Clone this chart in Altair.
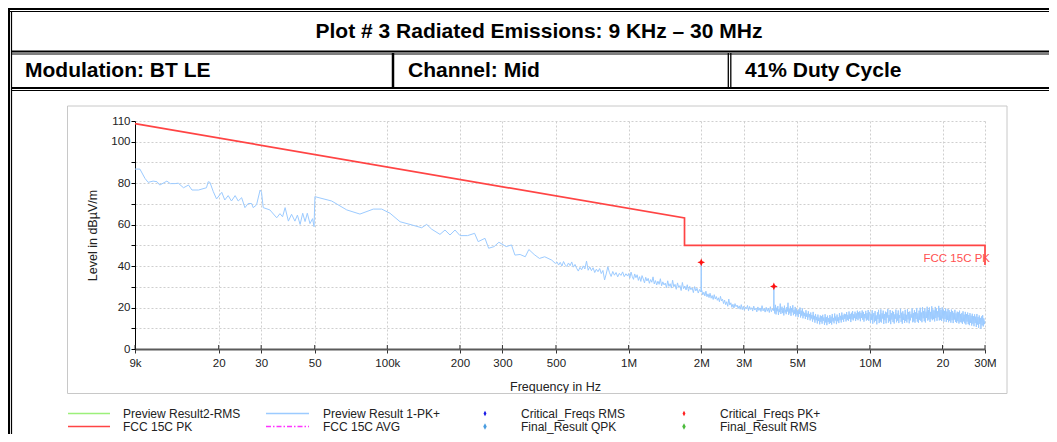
import altair as alt
import numpy as np
import pandas as pd

# ---------------- data ----------------
# Preview Result 1-PK+ : low-frequency part (explicit points)
low_freq_khz = [9.0, 9.43, 9.9, 10.2, 10.7, 11.1, 11.4, 12.2, 12.6, 13.2,
                13.6, 14.3, 15.0, 15.5, 16.5, 17.8, 18.1, 18.4, 19.0, 19.6,
                20.6, 21.2, 21.9, 22.6, 23.4, 24.1, 24.9, 25.7, 26.5, 27.4,
                27.8, 28.7, 29.7, 30.1, 30.6, 32.6, 34.8, 35.9, 36.8, 37.7,
                38.9, 40.1, 41.4, 42.4, 43.5, 44.6, 45.6, 46.6, 47.8, 49.0,
                49.7, 50.1, 58.8, 67.9, 77.0, 87.5, 94.8, 102.6, 112.9, 124.2,
                138.8, 145.6, 152.7, 165.3, 173.4, 181.9, 190.8, 200.1, 215, 230,
                238, 254, 263, 277, 290, 311, 327, 338, 355, 373,
                386, 406, 427, 449, 480]
low_level = [86.8, 86.8, 82.3, 80.4, 81.0, 80.7, 79.1, 81.0, 79.8, 79.8,
             80.0, 77.8, 79.1, 76.7, 76.7, 77.8, 80.7, 80.4, 75.9, 72.4,
             75.6, 71.9, 74.0, 71.4, 74.0, 71.4, 73.0, 68.2, 70.2, 70.2,
             68.2, 69.5, 76.7, 75.6, 68.2, 67.1, 63.3, 65.3, 63.8, 68.2,
             61.7, 65.0, 61.7, 64.6, 60.1, 65.5, 61.5, 65.5, 60.5, 62.9,
             59.0, 73.5, 71.4, 67.1, 65.1, 67.5, 67.5, 65.5, 61.4, 60.1,
             58.5, 60.1, 57.8, 55.3, 57.4, 55.0, 57.4, 54.7, 54.7, 55.8,
             51.8, 53.4, 48.6, 49.4, 51.5, 49.4, 50.2, 45.3, 45.6, 44.5,
             48.0, 45.6, 43.7, 44.5, 42.9]

# sweep segments (start Hz, stop Hz) with levels read along each segment
seg_start_hz = [497e3, 1.0e6, 2.01e6, 4.015e6, 1.0e7]
seg_stop_hz = [990e3, 1.99e6, 3.985e6, 9.95e6, 3.0e7]
seg_b = [41.3, 42.0, 40.5, 41.8, 40.0, 42.2, 40.6, 39.8, 41.5, 40.2, 42.0, 39.5, 40.8, 38.9, 37.6,
         39.4, 38.2, 40.1, 38.6, 42.4, 38.0, 39.6, 37.8, 39.2, 36.9, 38.5, 37.3, 38.8, 36.4, 37.9,
         33.3, 36.2, 39.7, 36.8, 35.0, 37.4, 35.6, 36.9, 34.8, 36.5, 35.5, 37.2, 34.9, 36.3, 35.2]
seg_c = [36.4, 34.2, 37.1, 35.0, 33.6, 36.2, 34.4, 35.8, 33.1, 34.9, 32.6, 35.4, 33.8, 31.9, 34.6,
         32.8, 34.1, 31.7, 33.5, 32.2, 34.8, 31.4, 33.0, 30.9, 32.7, 31.2, 33.9, 30.5, 32.4, 30.9,
         31.8, 29.6, 32.9, 30.2, 31.5, 29.4, 33.2, 30.0, 31.2, 28.8, 31.9, 29.7, 30.6, 28.2, 32.1,
         29.1, 30.4, 28.5, 31.0, 27.9, 30.2, 28.6, 29.5, 27.2, 30.1, 28.0, 29.3, 27.0, 28.7, 27.6]
seg_d = [28.3, 26.1, 27.4, 25.6, 27.9, 25.2, 26.6, 24.8, 26.9, 24.5, 25.8, 23.9, 26.2, 24.1, 25.3,
         23.5, 24.7, 22.8, 25.4, 23.2, 24.0, 21.9, 23.6, 21.4, 22.8, 20.6, 24.1, 21.2, 22.3, 20.1,
         21.6, 19.8, 21.9, 20.4, 21.2, 19.5, 20.8, 19.2, 21.4, 19.0, 20.6, 18.7, 20.2, 19.4, 21.0,
         18.5, 20.5, 19.1, 19.9, 18.3, 20.7, 18.8, 19.6, 17.9, 20.3, 18.6, 19.8, 18.1, 20.9, 18.4,
         19.5, 17.8, 20.1, 18.2, 19.7, 17.6, 20.4, 18.0, 19.3, 18.6]
seg_e = [19.6, 17.1, 21.3, 16.7, 19.9, 18.2, 20.7, 16.4, 19.2, 17.8, 21.9, 16.9, 18.6, 20.4, 17.3, 19.7, 16.2, 20.9, 17.6, 19.0,
         16.8, 20.2, 18.1, 22.3, 16.5, 19.4, 17.2, 20.6, 16.0, 19.8, 17.7, 21.1, 16.3, 18.9, 17.0, 20.3, 15.7, 19.3, 16.6, 18.4,
         15.4, 19.1, 16.9, 20.0, 15.2, 18.5, 16.1, 19.6, 14.8, 18.0, 15.9, 17.4, 14.5, 18.7, 15.6, 17.1, 14.1, 18.2, 15.3, 16.8,
         13.8, 17.6, 14.7, 16.4, 13.2, 17.9, 14.3, 16.0, 12.7, 16.9, 13.9, 15.5, 12.3, 16.6, 13.5, 15.1, 11.9, 16.2, 13.1, 15.8,
         12.2, 16.5, 13.6, 15.2, 11.7, 16.8, 12.8, 15.4, 11.5, 16.1, 13.0, 14.9, 12.1, 16.4, 12.6, 15.6, 11.8, 16.9, 13.3, 15.0,
         12.4, 17.1, 13.7, 15.7, 12.0, 16.6, 13.4, 15.3, 12.5, 17.3, 13.9, 16.0, 12.8, 17.6, 14.2, 16.3, 13.1, 17.0, 14.5, 16.7,
         13.3, 17.8, 14.0, 16.5, 13.6, 18.1, 14.6, 16.9, 13.0, 17.5, 14.3, 18.3, 13.8, 16.8, 14.9, 18.0, 13.5, 17.2, 14.4, 18.5,
         13.9, 17.7, 14.7, 18.2, 13.4, 17.4, 15.0, 18.6, 14.1, 17.9, 13.2, 16.9, 14.8, 18.4, 13.7, 17.3, 14.2, 18.8, 13.6, 17.6]
seg_f = [17.9, 12.6, 16.8, 14.1, 18.7, 12.2, 15.9, 17.4, 12.9, 18.3, 13.6, 16.2, 11.9, 17.7, 14.4, 18.9, 12.5, 16.6, 13.2, 19.1,
         12.8, 17.2, 14.7, 18.5, 12.1, 16.9, 13.9, 18.0, 12.4, 17.6, 15.1, 19.3, 12.7, 16.4, 13.4, 18.8, 12.0, 17.3, 14.2, 18.4,
         13.0, 17.9, 12.3, 16.7, 14.6, 19.0, 12.9, 17.1, 13.7, 18.6, 12.5, 16.3, 14.9, 19.4, 13.1, 17.5, 12.2, 18.2, 14.0, 17.0,
         12.6, 18.9, 13.5, 16.5, 12.8, 19.2, 14.3, 17.8, 12.4, 18.1, 13.8, 16.8, 15.2, 19.6, 12.9, 17.4, 13.3, 18.7, 12.7, 17.7,
         14.5, 19.8, 13.2, 17.2, 12.6, 18.5, 14.1, 19.9, 13.6, 17.6, 12.9, 20.2, 14.8, 18.3, 13.4, 19.5, 12.8, 18.0, 15.0, 20.4,
         13.7, 18.9, 14.2, 20.0, 13.1, 17.9, 14.6, 20.6, 13.9, 19.1, 14.4, 18.6, 13.3, 20.3, 14.9, 19.4, 13.6, 18.2, 15.3, 20.8,
         13.8, 19.7, 14.1, 18.8, 13.5, 20.1, 14.7, 19.0, 13.2, 18.4, 14.5, 19.6, 13.0, 18.1, 14.0, 19.3, 12.9, 18.7, 13.6, 17.8,
         12.7, 19.0, 13.9, 18.3, 12.5, 17.5, 14.2, 18.9, 13.1, 17.2, 12.6, 18.0, 13.4, 17.7, 12.3, 18.5, 13.0, 16.9, 12.8, 17.4,
         12.1, 18.2, 13.3, 16.6, 12.4, 17.9, 11.8, 16.8, 13.2, 17.6, 12.0, 16.4, 11.5, 17.3, 12.6, 16.1, 11.3, 17.0, 12.2, 15.8,
         11.0, 16.7, 12.5, 15.6, 10.6, 16.9, 11.8, 15.4, 10.2, 16.2, 12.1, 15.0, 9.8, 15.7, 11.4, 16.3, 10.9, 14.8, 12.0, 13.5]
seg_levels = [seg_b, seg_c, seg_d, seg_e, seg_f]

spike_freq_hz = [1.995e6, 2.0e6, 2.005e6, 3.99e6, 4.0e6, 4.01e6]
spike_level = [27.8, 41.8, 27.5, 19.2, 30.2, 18.6]

crit_freq_hz = [2.0e6, 4.0e6]
crit_level = [41.8, 30.2]

limit_freq_hz = [9e3, 1.705e6, 1.705e6, 3.0e7, 3.0e7]
limit_level = [108.7, 63.2, 50.0, 50.0, 40.5]
limit_name = "FCC 15C PK"

xtick_vals = [9e3, 2e4, 3e4, 5e4, 1e5, 2e5, 3e5, 5e5, 1e6, 2e6, 3e6, 5e6, 1e7, 2e7, 3e7]
xtick_labels = ["9k", "20", "30", "50", "100k", "200", "300", "500", "1M", "2M", "3M", "5M", "10M", "20", "30M"]
ytick_vals = [0, 10, 20, 30, 40, 50, 60, 70, 80, 90, 100, 110]
ytick_shown = [0, 20, 40, 60, 80, 100, 110]

title_text = "Plot # 3 Radiated Emissions: 9 KHz \u2013 30 MHz"
row_texts = ["Modulation: BT LE", "Channel: Mid", "41% Duty Cycle"]
legend_labels = ["Preview Result2-RMS", "Preview Result 1-PK+", "Critical_Freqs RMS", "Critical_Freqs PK+",
                 "FCC 15C PK", "FCC 15C AVG", "Final_Result QPK", "Final_Result RMS"]

# ---------------- assemble trace table ----------------
freqs = [f * 1e3 for f in low_freq_khz]
levels = list(low_level)
for i, (a, b, vals) in enumerate(zip(seg_start_hz, seg_stop_hz, seg_levels)):
    freqs += list(np.geomspace(a, b, len(vals)))
    levels += vals
    if i == 1:
        freqs += spike_freq_hz[:3]
        levels += spike_level[:3]
    if i == 2:
        freqs += spike_freq_hz[3:]
        levels += spike_level[3:]
trace_df = pd.DataFrame({"f": freqs, "lvl": levels})
crit_df = pd.DataFrame({"f": crit_freq_hz, "lvl": crit_level})
limit_df = pd.DataFrame({"f": limit_freq_hz, "lvl": limit_level, "i": range(len(limit_level))})
label_df = pd.DataFrame({"f": [limit_freq_hz[-1]], "lvl": [43.4], "t": [limit_name]})
xt_df = pd.DataFrame({"f": xtick_vals})

# ---------------- layout ----------------
W, H = 850, 228
OX, OY = 135, 121          # page position of the plot origin
SVG_W, SVG_H = 1041, 426   # whole drawing (page minus 8px body margins)
FONT = "Liberation Sans, Arial, sans-serif"
HFONT = "Liberation Sans, Arial, sans-serif"
LEG_Y1, LEG_Y2 = 413.5, 426.5

BLUE = "#9CCBFF"
RED = "#FF4444"

x_label_expr = " : ".join(
    f"abs(datum.value - {v}) < 1 ? '{l}'" for v, l in zip(xtick_vals, xtick_labels)) + " : ''"
y_label_expr = " : ".join(
    f"abs(datum.value - {v}) < 0.01 ? '{v}'" for v in ytick_shown) + " : ''"

x_enc = alt.X("f:Q", scale=alt.Scale(type="log", domain=[9e3, 3e7], nice=False),
              axis=alt.Axis(values=xtick_vals, tickCount=len(xtick_vals) + 5,
                            labelExpr=x_label_expr, grid=True,
                            gridDash=[2, 2], gridColor="#cfcfcf", domainColor="#5a5a5a",
                            domainWidth=2, tickColor="#333", tickSize=4, labelFlush=False,
                            labelOverlap=False, labelFont=FONT, labelFontSize=11.5,
                            labelColor="#222", labelPadding=4,
                            title="Frequency in Hz", titleFont=FONT, titleFontSize=12.5,
                            titleFontWeight="normal", titleColor="#222",
                            titleX=420, titleY=37, titleBaseline="middle",
                            titleAlign="center"))
y_enc = alt.Y("lvl:Q", scale=alt.Scale(domain=[0, 110], nice=False, zero=True),
              axis=alt.Axis(values=ytick_vals, tickCount=len(ytick_vals) + 5,
                            labelExpr=y_label_expr,
                            grid=True, gridDash=[2, 2], gridColor="#cfcfcf",
                            domainColor="#000", tickColor="#000", tickSize=4,
                            labelFlush=False, labelOverlap=False, labelBound=False,
                            labelFont=FONT, labelFontSize=11.5,
                            labelColor="#222", labelPadding=1,
                            title="Level in dB\u00b5V/m", titleFont=FONT, titleFontSize=12.5,
                            titleFontWeight="normal", titleColor="#222",
                            titleX=-43, titleY=H / 2, titleAngle=-90,
                            titleBaseline="middle", titleAlign="center"))

trace = alt.Chart(trace_df).mark_line(color=BLUE, strokeWidth=1).encode(x=x_enc, y=y_enc)
limit = alt.Chart(limit_df).mark_line(color=RED, strokeWidth=1.7).encode(
    x="f:Q", y="lvl:Q", order="i:Q")
star = "M0,-1 L0.3,-0.3 L1,0 L0.3,0.3 L0,1 L-0.3,0.3 L-1,0 L-0.3,-0.3 Z"
crit = alt.Chart(crit_df).mark_point(shape=star, filled=True, color="#FF1010", size=60,
                                     opacity=1).encode(x="f:Q", y="lvl:Q")
lim_label = alt.Chart(label_df).mark_text(align="right", baseline="middle", dx=5,
                                          color="#FF5050", font=FONT, fontSize=11.5).encode(
    x="f:Q", y="lvl:Q", text="t:N")
up_ticks = alt.Chart(xt_df).mark_rule(color="#333", strokeWidth=1).encode(
    x="f:Q", y=alt.value(H - 4), y2=alt.value(H))

# ---- decorations in page pixels (converted to plot-local pixels) ----
borders = [
    # x1, y1, x2, y2, width, colour
    (8, 9, 1057, 9, 2, "#000"), (10, 11.5, 1057, 11.5, 1, "#000"),
    (9, 8, 9, 442, 2, "#000"), (11.5, 11, 11.5, 442, 1.2, "#000"),
    (11, 51.5, 1057, 51.5, 2, "#000"), (11, 54, 1057, 54, 1.2, "#000"),
    (11, 88, 1057, 88, 2, "#000"), (11, 90.5, 1057, 90.5, 1.2, "#000"),
    (393, 53, 393, 89, 2.5, "#000"),
    (728.3, 53, 728.3, 89, 1.3, "#000"), (730.8, 53, 730.8, 89, 1.3, "#000"),
    # inner chart frame
    (67.5, 106, 1007, 106, 1, "#c8c8c8"), (67.5, 393.5, 1007, 393.5, 1, "#c8c8c8"),
    (67.5, 106, 67.5, 393.5, 1, "#c8c8c8"), (1007, 106, 1007, 393.5, 1, "#c8c8c8"),
    # legend line samples
    (68, LEG_Y1, 110, LEG_Y1, 1.3, "#9CF07A"), (266, LEG_Y1, 309, LEG_Y1, 1.3, BLUE),
    (68, LEG_Y2, 110, LEG_Y2, 1.6, RED),
]
bdf = pd.DataFrame(borders, columns=["x", "y", "x2", "y2", "w", "c"])
bdf[["x", "x2"]] -= OX
bdf[["y", "y2"]] -= OY
deco = alt.Chart(bdf).mark_rule().encode(
    x=alt.X("x:Q", scale=None, axis=None), x2="x2:Q",
    y=alt.Y("y:Q", scale=None, axis=None), y2="y2:Q",
    strokeWidth=alt.StrokeWidth("w:Q", scale=None),
    color=alt.Color("c:N", scale=None))
avg_df = pd.DataFrame({"x": [266 - OX], "x2": [309 - OX], "y": [LEG_Y2 - OY]})
avg_line = alt.Chart(avg_df).mark_rule(color="#FF33FF", strokeWidth=1.4,
                                       strokeDash=[5, 2, 1.5, 2]).encode(
    x=alt.X("x:Q", scale=None, axis=None), x2="x2:Q",
    y=alt.Y("y:Q", scale=None, axis=None))

vdiamond = "M0,-1 L0.55,0 L0,1 L-0.55,0 Z"
mk_df = pd.DataFrame({"x": [485 - OX, 684 - OX, 485 - OX, 684 - OX],
                      "y": [LEG_Y1 - OY, LEG_Y1 - OY, LEG_Y2 - OY, LEG_Y2 - OY],
                      "c": ["#1A1AE6", "#FF2020", "#4A9DE0", "#4CBB3C"],
                      "s": [28, 28, 40, 40]})
markers = alt.Chart(mk_df).mark_point(shape=vdiamond, filled=True, opacity=1).encode(
    x=alt.X("x:Q", scale=None, axis=None), y=alt.Y("y:Q", scale=None, axis=None),
    color=alt.Color("c:N", scale=None), size=alt.Size("s:Q", scale=None))

title_df = pd.DataFrame({"x": [539 - OX], "y": [32 - OY], "t": [title_text]})
title_mark = alt.Chart(title_df).mark_text(align="center", baseline="middle", font=HFONT,
                                           fontSize=21, fontWeight="bold", color="#000").encode(
    x=alt.X("x:Q", scale=None, axis=None), y=alt.Y("y:Q", scale=None, axis=None), text="t:N")
row_df = pd.DataFrame({"x": [25 - OX, 408 - OX, 745 - OX], "y": [71 - OY] * 3, "t": row_texts})
row_mark = alt.Chart(row_df).mark_text(align="left", baseline="middle", font=HFONT,
                                       fontSize=21, fontWeight="bold", color="#000").encode(
    x=alt.X("x:Q", scale=None, axis=None), y=alt.Y("y:Q", scale=None, axis=None), text="t:N")
leg_df = pd.DataFrame({"x": [x - OX for x in [123, 323, 521, 720, 123, 323, 521, 720]],
                       "y": [LEG_Y1 - OY] * 4 + [LEG_Y2 - OY] * 4, "t": legend_labels})
leg_text = alt.Chart(leg_df).mark_text(align="left", baseline="middle", font=FONT,
                                       fontSize=12, color="#222").encode(
    x=alt.X("x:Q", scale=None, axis=None), y=alt.Y("y:Q", scale=None, axis=None), text="t:N")

chart = alt.layer(
    trace, limit, crit, lim_label, up_ticks,
    deco, avg_line, markers, title_mark, row_mark, leg_text
).properties(
    width=W, height=H, autosize="none",
    padding={"left": OX - 8, "top": OY - 8,
             "right": SVG_W - (OX - 8) - W, "bottom": SVG_H - (OY - 8) - H},
    background="white",
).configure_view(stroke=None)

chart.save("out.html", embed_options={"renderer": "svg", "actions": False})
